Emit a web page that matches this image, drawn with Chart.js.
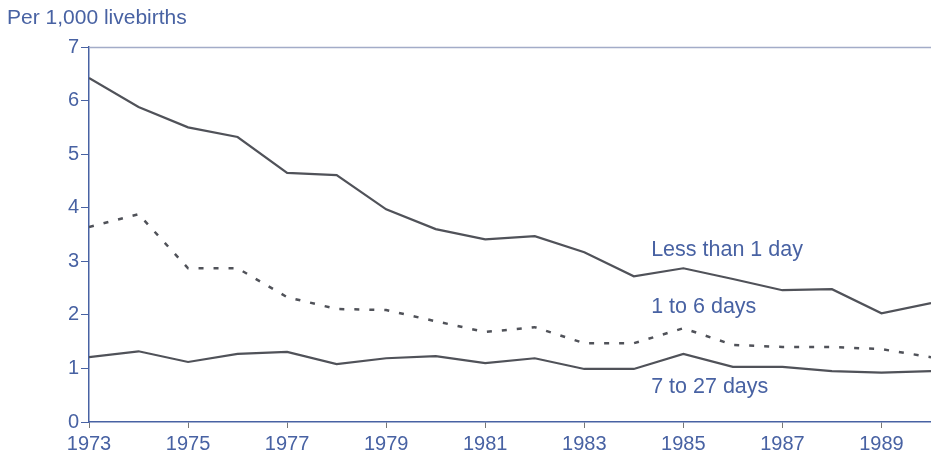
<!DOCTYPE html>
<html lang="en">
<head>
    <meta charset="UTF-8">
    <title>Neonatal deaths per 1,000 livebirths</title>
    <style>
        body { margin: 0; background: #fff; }
        #wrap { width: 931px; height: 459px; }
    </style>
</head>
<body>
    <div id="wrap">
        <canvas id="deathChart" width="931" height="459"></canvas>
    </div>
    <script src="https://cdn.jsdelivr.net/npm/chart.js"></script>
    <script>
        const years = [1973, 1974, 1975, 1976, 1977, 1978, 1979, 1980, 1981, 1982, 1983, 1984, 1985, 1986, 1987, 1988, 1989, 1990];
        const lessThan1Day = [6.42, 5.88, 5.50, 5.32, 4.65, 4.61, 3.97, 3.60, 3.41, 3.47, 3.17, 2.72, 2.87, 2.67, 2.46, 2.48, 2.03, 2.22];
        const oneTo6Days = [3.64, 3.88, 2.87, 2.87, 2.33, 2.11, 2.09, 1.88, 1.68, 1.77, 1.47, 1.47, 1.75, 1.44, 1.40, 1.40, 1.36, 1.21];
        const sevenTo27Days = [1.21, 1.32, 1.12, 1.27, 1.31, 1.08, 1.19, 1.23, 1.10, 1.19, 0.99, 0.99, 1.27, 1.03, 1.03, 0.95, 0.92, 0.95];
        const xTickYears = [1973, 1975, 1977, 1979, 1981, 1983, 1985, 1987, 1989];
        const seriesLabels = [
            { text: 'Less than 1 day', year: 1984.35, value: 3.2 },
            { text: '1 to 6 days', year: 1984.35, value: 2.15 },
            { text: '7 to 27 days', year: 1984.35, value: 0.65 }
        ];

        const blue = '#4862a3';
        const lineGrey = '#505259';
        const fontFamily = '"Liberation Sans", Arial, sans-serif';

        // draws the unit caption, the top border and the in-chart series labels
        const extras = {
            id: 'extras',
            afterDraw(chart) {
                const ctx = chart.ctx;
                const area = chart.chartArea;
                const x = chart.scales.x;
                const y = chart.scales.y;
                ctx.save();
                ctx.strokeStyle = '#a3acc8';
                ctx.lineWidth = 1.5;
                ctx.beginPath();
                ctx.moveTo(area.left, area.top + 0.5);
                ctx.lineTo(area.right, area.top + 0.5);
                ctx.stroke();

                ctx.fillStyle = blue;
                ctx.textBaseline = 'middle';
                ctx.font = '21px ' + fontFamily;
                ctx.fillText('Per 1,000 livebirths', 7, 18);

                ctx.font = '21.5px ' + fontFamily;
                seriesLabels.forEach(l => {
                    ctx.fillText(l.text, x.getPixelForValue(l.year), y.getPixelForValue(l.value));
                });
                ctx.restore();
            }
        };

        const toPoints = vals => vals.map((v, i) => ({ x: years[i], y: v }));

        new Chart(document.getElementById('deathChart'), {
            type: 'line',
            data: {
                datasets: [
                    { label: 'Less than 1 day', data: toPoints(lessThan1Day), borderColor: lineGrey, borderWidth: 2.2 },
                    { label: '1 to 6 days', data: toPoints(oneTo6Days), borderColor: lineGrey, borderWidth: 2.5, borderDash: [5, 10] },
                    { label: '7 to 27 days', data: toPoints(sevenTo27Days), borderColor: lineGrey, borderWidth: 2.2 }
                ]
            },
            options: {
                responsive: false,
                animation: false,
                layout: { padding: { top: 47, right: 0, left: 0, bottom: 0 } },
                elements: { point: { radius: 0 }, line: { tension: 0 } },
                plugins: { legend: { display: false }, tooltip: { enabled: false } },
                scales: {
                    x: {
                        type: 'linear',
                        min: 1973,
                        max: 1990,
                        afterBuildTicks: scale => { scale.ticks = xTickYears.map(v => ({ value: v })); },
                        afterFit: scale => { scale.height = 37; },
                        border: { color: blue, width: 1.5 },
                        grid: { drawOnChartArea: false, tickLength: 6, color: '#777' },
                        ticks: {
                            color: blue,
                            padding: 4,
                            maxRotation: 0,
                            autoSkip: false,
                            font: { family: fontFamily, size: 20 },
                            callback: v => String(v)
                        }
                    },
                    y: {
                        min: 0,
                        max: 7,
                        afterFit: scale => { scale.width = 89; },
                        border: { color: blue, width: 1.5 },
                        grid: { drawOnChartArea: false, tickLength: 8, color: blue },
                        ticks: {
                            color: blue,
                            stepSize: 1,
                            padding: 2,
                            font: { family: fontFamily, size: 20 }
                        }
                    }
                }
            },
            plugins: [extras]
        });
    </script>
</body>
</html>
